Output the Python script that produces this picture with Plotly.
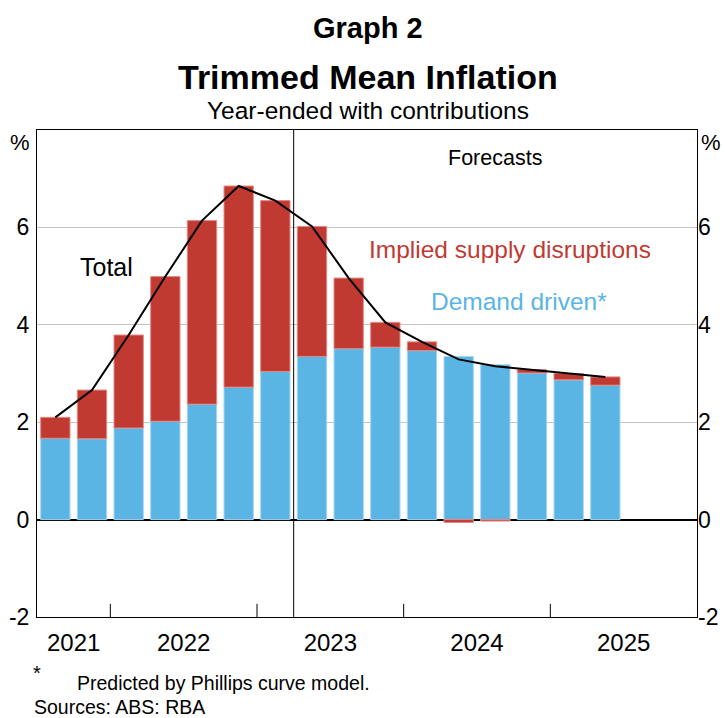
import plotly.graph_objects as go
import numpy as np

# ---- data ----
quarters = ["Sep-21", "Dec-21",
            "Mar-22", "Jun-22", "Sep-22", "Dec-22",
            "Mar-23", "Jun-23", "Sep-23", "Dec-23",
            "Mar-24", "Jun-24", "Sep-24", "Dec-24",
            "Mar-25", "Jun-25", "Sep-25", "Dec-25"]
demand_driven = [1.67, 1.66, 1.88, 2.02, 2.37, 2.72, 3.04, 3.35, 3.51, 3.54,
                 3.47, 3.35, 3.18, 3.01, 2.87, 2.76]
supply_disruptions = [0.43, 1.00, 1.91, 2.97, 3.77, 4.13, 3.51, 2.67, 1.45, 0.51,
                      0.18, -0.06, -0.03, 0.07, 0.13, 0.17]
total = [2.10, 2.66, 3.79, 4.99, 6.14, 6.85, 6.55, 6.02, 4.96, 4.05,
         3.65, 3.29, 3.15, 3.08, 3.00, 2.93]
years = ["2021", "2022", "2023", "2024", "2025"]
quarters_per_year = [2, 4, 4, 4, 4]
forecast_start = 7          # index of first forecast quarter
y_ticks = [-2, 0, 2, 4, 6]
y_tick_labels = [str(v) for v in y_ticks]   # plain hyphen minus, as in the reference

BLUE = "#5AB4E4"
RED = "#C13A32"
FONT = "Liberation Sans, Arial, sans-serif"

n = len(demand_driven)
xs = list(range(n))

fig = go.Figure()
fig.add_trace(go.Bar(x=xs, y=demand_driven, marker=dict(color=BLUE, line=dict(color="#A8D6F2", width=1)),
                     name="Demand driven*", showlegend=False))
fig.add_trace(go.Bar(x=xs, y=supply_disruptions, marker=dict(color=RED, line=dict(color="#E28A84", width=1)),
                     name="Implied supply disruptions", showlegend=False))
fig.add_trace(go.Scatter(x=xs, y=total, mode="lines", line=dict(color="black", width=2),
                         name="Total", showlegend=False))
# invisible trace for right axis
fig.add_trace(go.Scatter(x=[0], y=[0], yaxis="y2", mode="markers",
                         marker=dict(opacity=0), showlegend=False, hoverinfo="skip"))

# year label positions (centre of each year's quarters) and boundaries
cum = np.cumsum([0] + quarters_per_year)
year_centres = [(cum[i] + cum[i + 1] - 1) / 2 for i in range(len(years))]
boundaries = [c - 0.5 for c in cum[1:-1]]
xmax = cum[-1] - 0.5

shapes = []
for b in boundaries:
    shapes.append(dict(type="line", xref="x", yref="paper", x0=b, x1=b, y0=0, y1=0.027,
                       line=dict(color="black", width=1)))
shapes.append(dict(type="line", xref="x", yref="paper", x0=forecast_start - 0.5, x1=forecast_start - 0.5,
                   y0=0, y1=1, line=dict(color="black", width=1)))

ann = []
def A(text, x, y, size, color="black", xref="paper", yref="paper", xanchor="center", bold=False):
    ann.append(dict(text=("<b>%s</b>" % text) if bold else text, x=x, y=y, xref=xref, yref=yref,
                    xanchor=xanchor, yanchor="middle", showarrow=False,
                    font=dict(family=FONT, size=size, color=color)))

A("Graph 2", 0.5015, 1.2094, 29, bold=True)
A("Trimmed Mean Inflation", 0.5015, 1.1088, 34, bold=True)
A("Year-ended with contributions", 0.5015, 1.041, 24.5)
A("%", -0.026, 0.975, 22)
A("%", 1.021, 0.975, 22)
A("Total", 1.40, 5.19, 25, xref="x", yref="y")
A("Forecasts", 12.0, 7.43, 21.5, xref="x", yref="y")
A("Implied supply disruptions", 12.4, 5.54, 24.5, color=RED, xref="x", yref="y")
A("Demand driven*", 12.64, 4.47, 24.5, color=BLUE, xref="x", yref="y")
A("*", 0.0, -0.114, 20)
A("Predicted by Phillips curve model.", 0.058, -0.1355, 19.5, xanchor="left")
A("Sources: ABS: RBA", -0.008, -0.1845, 19.5, xanchor="left")

fig.update_layout(
    width=725, height=718,
    margin=dict(l=37, r=28, t=130, b=101),
    paper_bgcolor="white", plot_bgcolor="white",
    barmode="relative", bargap=0.2,
    font=dict(family=FONT, size=20, color="black"),
    shapes=shapes, annotations=ann,
    xaxis=dict(range=[-0.5, xmax], tickmode="array", tickvals=year_centres, ticktext=years,
               showgrid=False, zeroline=False, showline=True, linecolor="black", linewidth=1,
               mirror=True, ticks="", tickfont=dict(size=24), ticklabelstandoff=4, automargin=False),
    yaxis=dict(range=[-2, 8], tickmode="array", tickvals=y_ticks, ticktext=y_tick_labels,
               showgrid=True, gridcolor="#C4C4C4", gridwidth=1, zeroline=True, zerolinecolor="black",
               zerolinewidth=1.5, showline=True, linecolor="black", linewidth=1, mirror=True,
               ticks="", tickfont=dict(size=23), ticklabelstandoff=2, automargin=False),
    yaxis2=dict(range=[-2, 8], overlaying="y", side="right", tickmode="array", tickvals=y_ticks,
                ticktext=y_tick_labels, showgrid=False, zeroline=False, showline=False, ticks="",
                tickfont=dict(size=23), automargin=False),
)

# remove the default 8px page margin so the 725x718 figure fills the window exactly
fig.write_html("out.html", config={"displayModeBar": False},
               post_script="document.body.style.margin='0';document.body.style.overflow='hidden';")
